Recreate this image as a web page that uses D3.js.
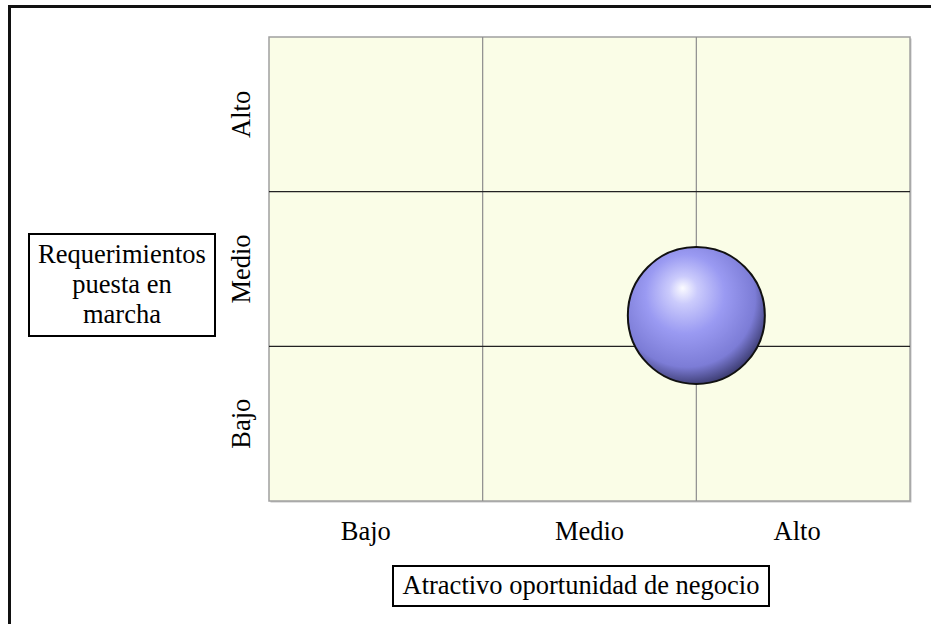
<!DOCTYPE html>
<html>
<head>
<meta charset="utf-8">
<script src="https://cdn.jsdelivr.net/npm/d3@7"></script>
<style>
  body { margin: 0; background: #fff; }
  svg text { font-family: "Liberation Serif", "Tinos", "Times New Roman", "DejaVu Serif", serif; fill: #000; }
</style>
</head>
<body>
<div id="chart"></div>
<script>
const xCategories = ["Bajo", "Medio", "Alto"];
const yCategories = ["Bajo", "Medio", "Alto"];
const bubbleX = [2.0];
const bubbleY = [1.2];
const bubbleSize = [1];
const xTitle = "Atractivo oportunidad de negocio";
const yTitle = ["Requerimientos", "puesta en", "marcha"];

const width = 931, height = 624;
const plot = { left: 269, right: 910, top: 37, bottom: 501 };
const serif = '"Liberation Serif", "Tinos", "Times New Roman", "DejaVu Serif", serif';
const fontSize = "26.5px";

const svg = d3.select("#chart").append("svg")
    .attr("width", width)
    .attr("height", height)
    .attr("font-family", serif);

// outer frame, runs past the right/bottom edge like the original
svg.append("rect")
    .attr("x", 9.5).attr("y", 6.5)
    .attr("width", 1000).attr("height", 1000)
    .attr("fill", "#fff")
    .attr("stroke", "#111")
    .attr("stroke-width", 3);

const x = d3.scaleLinear().domain([0, xCategories.length]).range([plot.left, plot.right]);
const y = d3.scaleLinear().domain([0, yCategories.length]).range([plot.bottom, plot.top]);
const r = d3.scaleSqrt().domain([0, 1]).range([0, 68.5]);

// plot area with a faint shadow on right/bottom
svg.append("rect")
    .attr("x", plot.left + 1.5).attr("y", plot.top + 1.5)
    .attr("width", plot.right - plot.left).attr("height", plot.bottom - plot.top)
    .attr("fill", "#c4c4c4");
svg.append("rect")
    .attr("x", plot.left).attr("y", plot.top)
    .attr("width", plot.right - plot.left).attr("height", plot.bottom - plot.top)
    .attr("fill", "#fafde7")
    .attr("stroke", "#a0a0a0")
    .attr("stroke-width", 1.5);

// grid lines between categories
const xGrid = d3.range(1, xCategories.length);
const yGrid = d3.range(1, yCategories.length);
svg.selectAll(".vgrid").data(xGrid).join("line")
    .attr("class", "vgrid")
    .attr("x1", d => x(d)).attr("x2", d => x(d))
    .attr("y1", plot.top).attr("y2", plot.bottom)
    .attr("stroke", "#8c8c8c").attr("stroke-width", 1.2);
svg.selectAll(".hgrid").data(yGrid).join("line")
    .attr("class", "hgrid")
    .attr("x1", plot.left).attr("x2", plot.right)
    .attr("y1", d => y(d)).attr("y2", d => y(d))
    .attr("stroke", "#222").attr("stroke-width", 1.2);

// category labels
svg.selectAll(".xlab").data(xCategories).join("text")
    .attr("class", "xlab")
    .attr("x", (d, i) => x(i + 0.5) - (i === 0 ? 10 : i === 2 ? 6 : 0))
    .attr("y", 540)
    .attr("text-anchor", "middle")
    .attr("font-size", fontSize)
    .text(d => d);

svg.selectAll(".ylab").data(yCategories).join("text")
    .attr("class", "ylab")
    .attr("transform", (d, i) => `translate(250,${y(i + 0.5)}) rotate(-90)`)
    .attr("text-anchor", "middle")
    .attr("font-size", fontSize)
    .text(d => d);

// bubble
const defs = svg.append("defs");
const grad = defs.append("radialGradient")
    .attr("id", "sphere")
    .attr("cx", "0.44").attr("cy", "0.4").attr("r", "0.64")
    .attr("fx", "0.4").attr("fy", "0.3");
grad.append("stop").attr("offset", "0").attr("stop-color", "#fbfbff");
grad.append("stop").attr("offset", "0.16").attr("stop-color", "#cbcbfc");
grad.append("stop").attr("offset", "0.45").attr("stop-color", "#9a9af2");
grad.append("stop").attr("offset", "0.78").attr("stop-color", "#7c7cd6");
grad.append("stop").attr("offset", "1").attr("stop-color", "#30305e");

svg.selectAll(".bubble").data(bubbleX).join("circle")
    .attr("class", "bubble")
    .attr("cx", d => x(d))
    .attr("cy", (d, i) => y(bubbleY[i]))
    .attr("r", (d, i) => r(bubbleSize[i]))
    .attr("fill", "url(#sphere)")
    .attr("stroke", "#111")
    .attr("stroke-width", 2);

// x title box
svg.append("rect")
    .attr("x", 393).attr("y", 566)
    .attr("width", 376).attr("height", 40)
    .attr("fill", "#fff").attr("stroke", "#000").attr("stroke-width", 2);
svg.append("text")
    .attr("x", 581).attr("y", 594)
    .attr("text-anchor", "middle")
    .attr("font-size", fontSize)
    .text(xTitle);

// y title box
svg.append("rect")
    .attr("x", 29).attr("y", 234)
    .attr("width", 186).attr("height", 102)
    .attr("fill", "#fff").attr("stroke", "#000").attr("stroke-width", 2);
svg.append("text")
    .attr("text-anchor", "middle")
    .attr("font-size", fontSize)
    .selectAll("tspan").data(yTitle).join("tspan")
    .attr("x", 122)
    .attr("y", (d, i) => 263 + i * 30)
    .text(d => d);
</script>
</body>
</html>
